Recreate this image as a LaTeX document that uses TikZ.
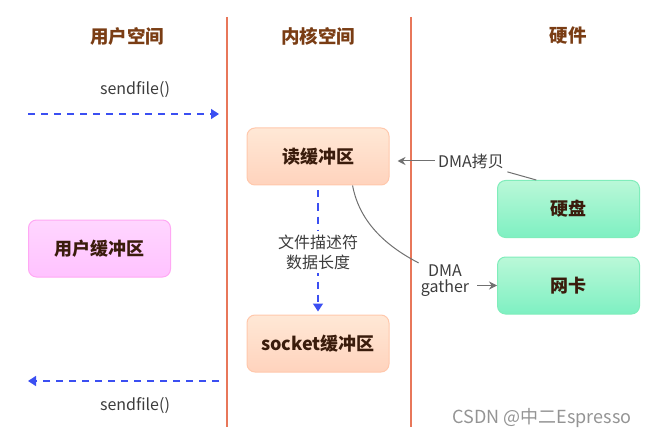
\documentclass[tikz,border=0pt]{standalone}
\usepackage{fontspec}
\setmainfont{Noto Sans CJK SC}
\usetikzlibrary{arrows.meta}
\definecolor{sepline}{HTML}{E8775A}
\definecolor{headbrown}{HTML}{7A3D14}
\definecolor{boxtext}{HTML}{3A1C0C}
\definecolor{labeltext}{HTML}{3C3C3C}
\definecolor{callblue}{HTML}{3B4FF2}
\definecolor{dmagray}{HTML}{707070}
\definecolor{ktop}{HTML}{FFE8D6}
\definecolor{kbot}{HTML}{FFD3BD}
\definecolor{kborder}{HTML}{FFC8AC}
\definecolor{utop}{HTML}{FFD6FF}
\definecolor{ubot}{HTML}{FFC2FF}
\definecolor{uborder}{HTML}{FFA8F4}
\definecolor{htop}{HTML}{BAF8D8}
\definecolor{hbot}{HTML}{7EF0C2}
\definecolor{hborder}{HTML}{80EDBB}

\begin{document}
\begin{tikzpicture}[x=1pt,y=-1pt,>/.tip={Stealth[length=8pt,width=8pt]},
	head/.style={font=\fontsize{18.5}{20}\selectfont\bfseries,text=headbrown},
	buf/.style={rounded corners=8pt,minimum width=142pt,minimum height=57pt,line width=1pt,font=\fontsize{18}{20}\selectfont\bfseries,text=boxtext},
	kbuf/.style={buf,draw=kborder,top color=ktop,bottom color=kbot},
	ubuf/.style={buf,draw=uborder,top color=utop,bottom color=ubot},
	hw/.style={buf,draw=hborder,top color=htop,bottom color=hbot},
	lbl/.style={font=\fontsize{16}{20}\selectfont,text=labeltext,align=center},
	sep/.style={draw=sepline,line width=1.2pt},
	call/.style={draw=callblue,line width=1.3pt,dash pattern=on 7pt off 6pt,-{Triangle[length=8pt,width=10pt]}},
	dma/.style={draw=dmagray,line width=1pt}]
	\useasboundingbox (0,0) rectangle (652,438);

	\draw[sep] (227,17) -- (227,427);
	\draw[sep] (411,17) -- (411,427);

	\draw (127,36) node (user) [head] {用户空间};
	\draw (318,36) node (kernel) [head] {内核空间};
	\draw (568,36) node (hard) [head] {硬件};

	\draw (318,156.5) node (readbuf) [kbuf] {读缓冲区};
	\draw (318,343.5) node (sockbuf) [kbuf] {socket缓冲区};
	\draw (99.5,248.5) node (userbuf) [ubuf] {用户缓冲区};
	\draw (568.5,209) node (disk) [hw] {硬盘};
	\draw (568.5,285.5) node (nic) [hw] {网卡};

	\draw (135,90) node (callin) [lbl] {sendfile()};
	\draw (135,406) node (callout) [lbl] {sendfile()};
	\draw (471,161) node (dmacopy) [lbl] {DMA拷贝};
	\draw (445,281) node (gather) [lbl,inner sep=2pt] {DMA\\[-4pt]gather};
	\draw (542,418) node (mark) [font=\fontsize{18}{20}\selectfont,text=black!42] {CSDN @中二Espresso};

	\coordinate (inleft) at (28,114);
	\coordinate (inright) at (219,114);
	\coordinate (outright) at (219,381);
	\coordinate (outleft) at (28,381);

	\draw[call] (inleft) -- (inright);
	\draw[call] (outright) -- (outleft);
	\draw[call] ([yshift=-5pt]readbuf.south) -- ([yshift=3pt]sockbuf.north);
	\draw (318,252) node (desc) [lbl,fill=white,inner sep=4pt] {文件描述符\\数据长度};

	\draw[dma] (disk.138) -- (dmacopy.south east);
	\draw[dma,->] (dmacopy.west) -- ([xshift=8pt]readbuf.east |- dmacopy.west);
	\draw[dma] (readbuf.-40) .. controls (360,225) and (390,248) .. (gather.north west);
	\draw[dma,->,shorten <=6pt] (gather.east |- nic.west) -- (nic.west);
\end{tikzpicture}
\end{document}
